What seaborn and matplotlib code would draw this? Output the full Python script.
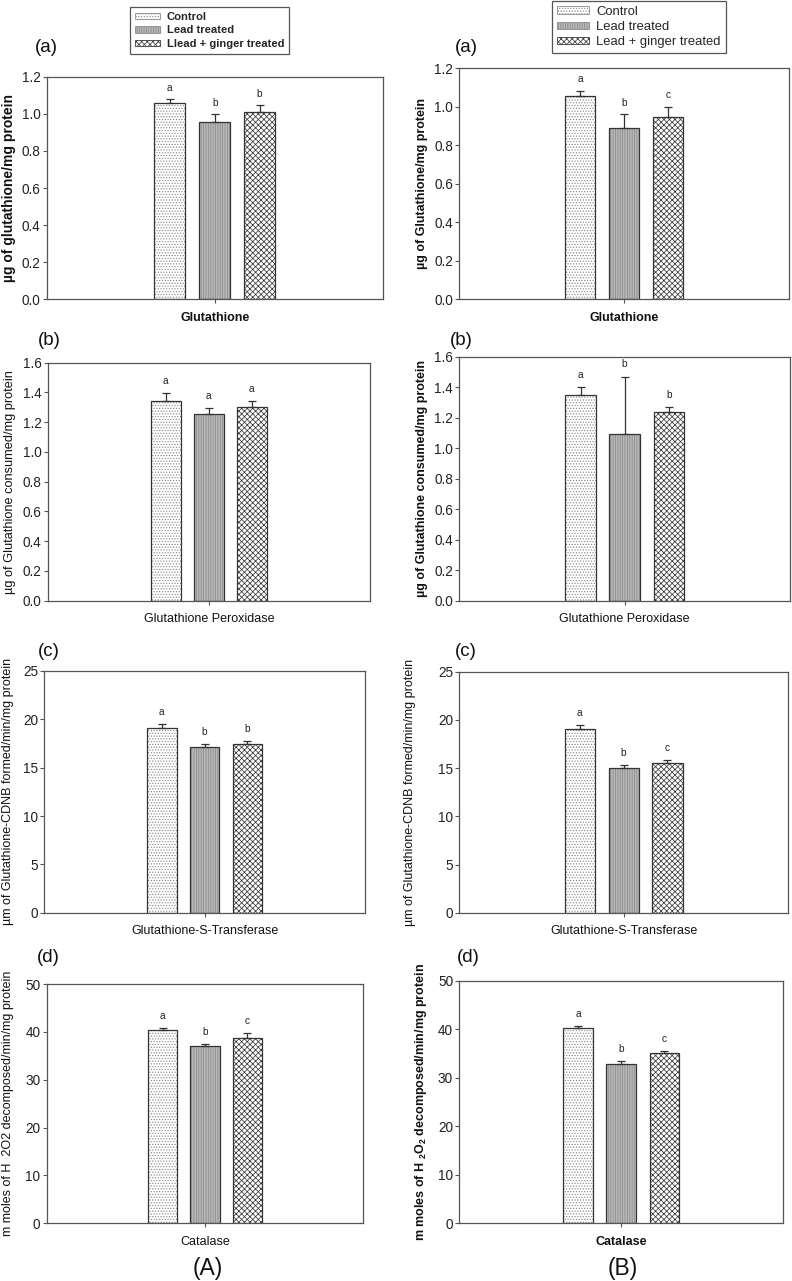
import numpy as np
import pandas as pd
import matplotlib
matplotlib.use("Agg")
import matplotlib.pyplot as plt
import seaborn as sns
from matplotlib.patches import Patch, Rectangle

# ---------------- data ----------------
groups = ["Control", "Lead treated", "Lead + ginger treated"]
legend_labels_A = ["Control", "Lead treated", "Llead + ginger treated"]
legend_labels_B = ["Control", "Lead treated", "Lead + ginger treated"]
assays = ["Glutathione", "Glutathione Peroxidase", "Glutathione-S-Transferase", "Catalase"]

A_gsh = [1.057, 0.954, 1.010]
A_gsh_err = [0.024, 0.043, 0.036]
A_gsh_sig = ["a", "b", "b"]
B_gsh = [1.058, 0.888, 0.949]
B_gsh_err = [0.026, 0.073, 0.051]
B_gsh_sig = ["a", "b", "c"]

A_gpx = [1.342, 1.255, 1.302]
A_gpx_err = [0.052, 0.038, 0.038]
A_gpx_sig = ["a", "a", "a"]
B_gpx = [1.346, 1.091, 1.239]
B_gpx_err = [0.053, 0.378, 0.029]
B_gpx_sig = ["a", "b", "b"]

A_gst = [19.07, 17.14, 17.41]
A_gst_err = [0.41, 0.27, 0.38]
A_gst_sig = ["a", "b", "b"]
B_gst = [19.02, 14.97, 15.49]
B_gst_err = [0.45, 0.35, 0.31]
B_gst_sig = ["a", "b", "c"]

A_cat = [40.46, 37.12, 38.72]
A_cat_err = [0.35, 0.28, 1.04]
A_cat_sig = ["a", "b", "c"]
B_cat = [40.32, 32.90, 35.03]
B_cat_err = [0.34, 0.48, 0.55]
B_cat_sig = ["a", "b", "c"]

# ---------------- style ----------------
sns.set_theme(style="white")
plt.rcParams["font.family"] = ["Liberation Sans", "DejaVu Sans"]
plt.rcParams["mathtext.fontset"] = "custom"
plt.rcParams["mathtext.rm"] = "Liberation Sans"
plt.rcParams["mathtext.bf"] = "Liberation Sans:bold"
plt.rcParams["hatch.linewidth"] = 0.55

face_colors = {"Control": "#ffffff", "Lead treated": "#b8b8b8", "Lead + ginger treated": "#ffffff"}
hatches = ["......", "|||||||", "xxxxxx"]
hatch_cols = ["#8c8c8c", "#8a8a8a", "#3a3a3a"]
SPINE = "#555555"

W, H = 792, 1281
fig = plt.figure(figsize=(W / 100, H / 100), dpi=100)


def add_ax(box):
    x0, y0, x1, y1 = box
    return fig.add_axes([x0 / W, 1 - y1 / H, (x1 - x0) / W, (y1 - y0) / H])


panels = [
    dict(means=A_gsh, errs=A_gsh_err, sig=A_gsh_sig, assay=assays[0],
         ylabel="µg of glutathione/mg protein", ybold=True, xbold=True, ymax=1.2, ystep=0.2, ysize=10,
         fmt="{:.1f}", box=(46.7, 76.7, 382.7, 299.3), tag="(a)", tagpos=(35, 48), ylx=16),
    dict(means=B_gsh, errs=B_gsh_err, sig=B_gsh_sig, assay=assays[0],
         ylabel="µg of Glutathione/mg protein", ybold=True, xbold=True, ymax=1.2, ystep=0.2, ysize=9,
         fmt="{:.1f}", box=(459.3, 68.3, 789.3, 299.3), tag="(a)", tagpos=(455, 47), ylx=428),
    dict(means=A_gpx, errs=A_gpx_err, sig=A_gpx_sig, assay=assays[1],
         ylabel="µg of Glutathione consumed/mg protein", ybold=False, xbold=False, ymax=1.6, ystep=0.2, ysize=9.2,
         fmt="{:.1f}", box=(47.7, 362.7, 370.0, 600.7), tag="(b)", tagpos=(38, 340), ylx=16),
    dict(means=B_gpx, errs=B_gpx_err, sig=B_gpx_sig, assay=assays[1],
         ylabel="µg of Glutathione consumed/mg protein", ybold=True, xbold=False, ymax=1.6, ystep=0.2, ysize=9,
         fmt="{:.1f}", box=(459.3, 356.7, 790.0, 600.7), tag="(b)", tagpos=(450, 340), ylx=428),
    dict(means=A_gst, errs=A_gst_err, sig=A_gst_sig, assay=assays[2],
         ylabel="µm of Glutathione-CDNB formed/min/mg protein", ybold=False, xbold=False, ymax=25, ystep=5, ysize=9,
         fmt="{:.0f}", box=(44.3, 671.0, 365.0, 912.7), tag="(c)", tagpos=(38, 652), ylx=14),
    dict(means=B_gst, errs=B_gst_err, sig=B_gst_sig, assay=assays[2],
         ylabel="µm of Glutathione-CDNB formed/min/mg protein", ybold=False, xbold=False, ymax=25, ystep=5, ysize=9,
         fmt="{:.0f}", box=(459.3, 671.7, 788.0, 912.7), tag="(c)", tagpos=(455, 652), ylx=416),
    dict(means=A_cat, errs=A_cat_err, sig=A_cat_sig, assay=assays[3],
         ylabel="m moles of H  2O2 decomposed/min/mg protein", ybold=False, xbold=False, ymax=50, ystep=10, ysize=9,
         fmt="{:.0f}", box=(46.7, 984.0, 363.3, 1223.3), tag="(d)", tagpos=(37, 958), ylx=14),
    dict(means=B_cat, errs=B_cat_err, sig=B_cat_sig, assay=assays[3],
         ylabel=r"m moles of H $_\mathbf{2}$O$_\mathbf{2}$ decomposed/min/mg protein", ybold=True, xbold=True,
         ymax=50, ystep=10, ysize=9, fmt="{:.0f}", box=(459.3, 980.7, 783.3, 1223.3), tag="(d)",
         tagpos=(457, 958), ylx=429),
]

for p in panels:
    ax = add_ax(p["box"])
    df = pd.DataFrame({"assay": [p["assay"]] * len(groups), "group": groups, "value": p["means"]})
    sns.barplot(data=df, x="assay", y="value", hue="group", hue_order=groups, palette=face_colors,
                saturation=1, width=0.4, gap=0.31, errorbar=None, legend=False, ax=ax)
    centers = []
    for i, cont in enumerate(ax.containers):
        for bar in cont:
            bar.set_hatch(hatches[i])
            bar.set_edgecolor(hatch_cols[i])
            bar.set_linewidth(0)
            ax.add_patch(Rectangle(bar.get_xy(), bar.get_width(), bar.get_height(), fill=False,
                                   edgecolor="#333333", linewidth=0.9, zorder=bar.get_zorder() + 0.1))
            centers.append(bar.get_x() + bar.get_width() / 2)
    means = np.array(p["means"])
    errs = np.array(p["errs"])
    ax.errorbar(centers, means, yerr=[np.zeros_like(errs), errs], fmt="none", ecolor="#333333",
                elinewidth=0.9, capsize=3.2, capthick=0.9, zorder=5)
    for cx, m, e, s in zip(centers, means, errs, p["sig"]):
        ax.text(cx, m + e + 0.05 * p["ymax"], s, ha="center", va="center", fontsize=7.3, color="#222222")

    ax.set_xlim(-0.5, 0.5)
    ax.set_ylim(0, p["ymax"])
    ticks = np.arange(0, p["ymax"] + 1e-9, p["ystep"])
    ax.set_yticks(ticks)
    ax.set_yticklabels([p["fmt"].format(t) for t in ticks])
    ax.set_xlabel("")
    for t in ax.get_xticklabels():
        t.set_fontweight("bold" if p["xbold"] else "normal")
        t.set_fontsize(9)
    ax.tick_params(axis="y", direction="out", length=3, width=0.8, color=SPINE, pad=1.5,
                   labelsize=9.8, left=True, labelcolor="#222222")
    ax.tick_params(axis="x", direction="out", length=3, width=0.8, color=SPINE, pad=6,
                   bottom=True, labelcolor="#111111")
    for sp in ax.spines.values():
        sp.set_visible(True)
        sp.set_color(SPINE)
        sp.set_linewidth(0.9)
    ax.set_ylabel(p["ylabel"], fontsize=p["ysize"], fontweight="bold" if p["ybold"] else "normal",
                  color="#111111")
    x0, y0, x1, y1 = p["box"]
    ax.yaxis.set_label_coords((p["ylx"] - x0) / (x1 - x0), 0.5)
    fig.text(p["tagpos"][0] / W, 1 - p["tagpos"][1] / H, p["tag"], fontsize=13.5, ha="left", va="center",
             color="#111111")

# legends
def make_handles():
    return [Patch(facecolor=face_colors[g], edgecolor=hatch_cols[i], hatch=hatches[i], linewidth=0.6)
            for i, g in enumerate(groups)]

legA = fig.legend(make_handles(), legend_labels_A, loc="upper left", bbox_to_anchor=(130 / W, 1 - 7 / H),
                  frameon=True, fancybox=False, edgecolor="#555555", framealpha=1,
                  prop={"size": 8.1, "weight": "bold"}, handlelength=2.2, handleheight=0.5,
                  labelspacing=0.3, handletextpad=0.6, borderpad=0.45, borderaxespad=0)
legA.get_frame().set_linewidth(0.9)
legB = fig.legend(make_handles(), legend_labels_B, loc="upper left", bbox_to_anchor=(552 / W, 1 - 0.5 / H),
                  frameon=True, fancybox=False, edgecolor="#555555", framealpha=1,
                  prop={"size": 9.4}, handlelength=2.4, handleheight=0.5,
                  labelspacing=0.25, handletextpad=0.6, borderpad=0.4, borderaxespad=0)
legB.get_frame().set_linewidth(0.9)

fig.text(208 / W, 1 - 1268 / H, "(A)", fontsize=16.5, ha="center", va="center", color="#111111")
fig.text(623 / W, 1 - 1268 / H, "(B)", fontsize=16.5, ha="center", va="center", color="#111111")

fig.savefig("out.png", dpi=100)
